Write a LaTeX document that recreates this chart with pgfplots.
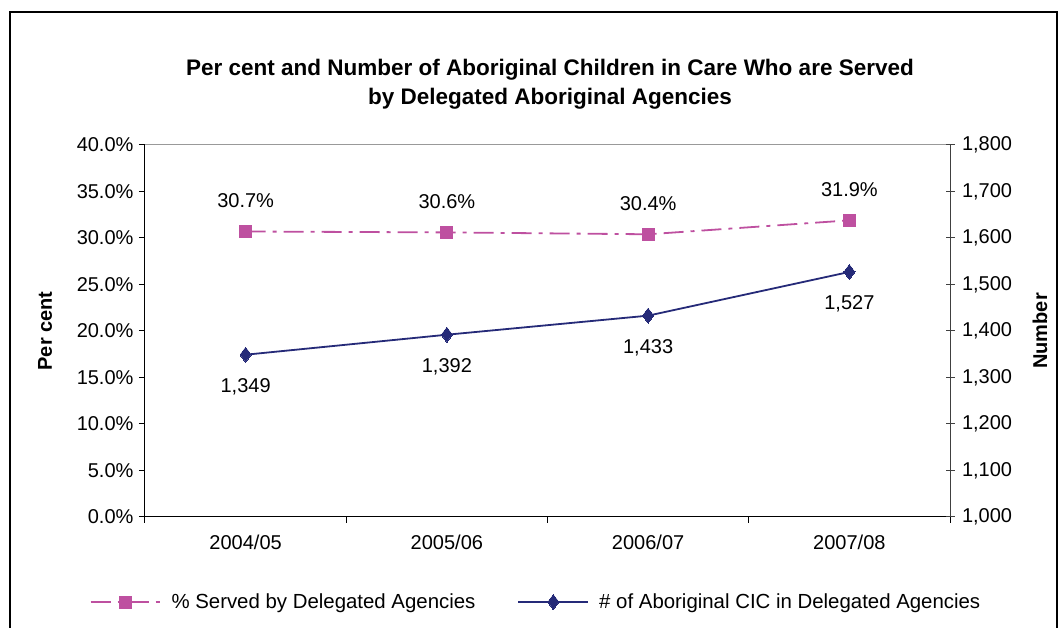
\documentclass[border=0pt]{standalone}
\usepackage{fontspec}
\setmainfont{Liberation Sans}
\usepackage{pgfplots}
\pgfplotsset{compat=1.18}
\definecolor{pinkc}{RGB}{190,80,160}
\definecolor{navyc}{RGB}{37,42,120}
\pgfplotsset{/pgf/number format/assume math mode=true}
\begin{document}
\begin{tikzpicture}[x=1pt,y=1pt,font=\fontsize{20}{24}\selectfont]
\useasboundingbox (-145,-111) rectangle (914,517);
\draw[line width=1.6pt] (-135,-115) -- (-135,505) -- (912,505) -- (912,-115);
\begin{axis}[
  at={(0,0)}, anchor=south west,
  scale only axis, width=805pt, height=372pt,
  xmin=-0.5, xmax=3.5, ymin=0, ymax=40,
  axis x line*=bottom, axis y line*=left,
  axis line style={black, line width=1pt, -},
  xtick={0,1,2,3},
  xticklabels={2004/05,2005/06,2006/07,2007/08},
  minor xtick={-0.5,0.5,1.5,2.5,3.5},
  x tick label style={yshift=-8pt},
  ytick={0,5,...,40},
  yticklabel={\pgfmathprintnumber[fixed,fixed zerofill,precision=1]{\tick}\%},
  tick align=outside,
  major tick length=6pt, minor tick length=6pt,
  xtick style={draw=none},
  minor x tick style={draw=black, line width=1pt},
  ytick style={black, line width=1pt},
  y tick label style={xshift=-2pt},
  legend columns=2,
  legend style={at={(0.4857,-0.2285)}, anchor=center, draw=none, fill=none,
    /tikz/every odd column/.append style={column sep=8pt},
    /tikz/every even column/.append style={column sep=40pt},
    font=\fontsize{20.4}{24}\selectfont},
  legend image code/.code={\draw[#1, mark repeat=2, mark phase=2] plot coordinates {(0pt,0pt) (35pt,0pt) (70pt,0pt)};},
  clip=false,
  nodes near coords={\pgfmathprintnumber[fixed,fixed zerofill,precision=1]{\pgfplotspointmeta}\%},
  nodes near coords style={anchor=center, yshift=31pt, text=black, font=\fontsize{20}{24}\selectfont},
]
\draw[gray!80, line width=1pt] (rel axis cs:0,1) -- (rel axis cs:1,1);
\addplot[pinkc, line width=1.8pt, dash pattern=on 20pt off 7pt on 4pt off 7pt,
  mark=square*, mark size=6pt, mark options={solid, fill=pinkc, draw=pinkc, line width=0pt}]
  coordinates {(0,30.7) (1,30.6) (2,30.4) (3,31.9)};
\addlegendentry{\% Served by Delegated Agencies}
\addlegendimage{navyc, line width=1.8pt, solid, mark=diamond*, mark size=7.5pt, mark options={fill=navyc, draw=navyc, line width=0pt}}
\addlegendentry{\# of Aboriginal CIC in Delegated Agencies}
\end{axis}
\begin{axis}[
  at={(0,0)}, anchor=south west,
  scale only axis, width=805pt, height=372pt,
  xmin=-0.5, xmax=3.5, ymin=1000, ymax=1800,
  axis x line=none, axis y line*=right,
  axis line style={black!75, line width=1pt, -},
  ytick={1000,1100,...,1800},
  yticklabel={\pgfmathprintnumber[fixed,1000 sep={,}]{\tick}},
  tick align=center, major tick length=9pt,
  ytick style={black!75, line width=1pt},
  y tick label style={xshift=4pt},
  clip=false,
  nodes near coords={\pgfmathprintnumber[fixed,1000 sep={,}]{\pgfplotspointmeta}},
  nodes near coords style={anchor=center, yshift=-32pt, text=black, font=\fontsize{20}{24}\selectfont},
]
\addplot[navyc, line width=1.8pt, mark=diamond*, mark size=7.5pt, mark options={fill=navyc, draw=navyc, line width=0pt}]
  coordinates {(0,1349) (1,1392) (2,1433) (3,1527)};
\end{axis}
\node[font=\bfseries\fontsize{22.5}{29}\selectfont, align=center] at (405,433) {Per cent and Number of Aboriginal Children in Care Who are Served\\by Delegated Aboriginal Agencies};
\node[font=\bfseries\fontsize{20}{24}\selectfont, rotate=90] at (-100,186) {Per cent};
\node[font=\bfseries\fontsize{20}{24}\selectfont, rotate=90] at (895,186) {Number};
\end{tikzpicture}
\end{document}
